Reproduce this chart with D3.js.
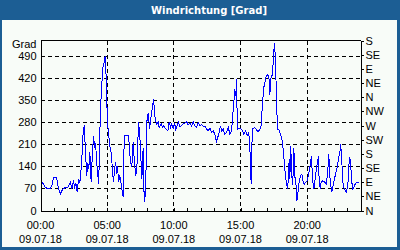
<!DOCTYPE html>
<html>
<head>
<meta charset="utf-8">
<script src="https://cdn.jsdelivr.net/npm/d3@7"></script>
<style>
  body { margin: 0; background: #fff; }
  svg { display: block; }
</style>
</head>
<body>
<svg width="400" height="250"></svg>
<script>
// minutes since 00:00 and wind direction in degrees (values > 360 wrap round the compass)
var minutes = [3, 21, 32, 44, 51, 59, 69, 73, 81, 90, 99, 111, 123, 134, 141, 149, 153, 159, 165, 171, 177,
  183, 186, 192, 197, 201, 208, 213, 217, 222, 228, 234, 239, 243, 248, 252, 257, 262, 267, 271, 276, 279,
  285, 287, 291, 294, 297, 300, 305, 307, 312, 320, 324, 329, 333, 339, 342, 347, 351, 357, 366, 372, 375,
  379, 396, 405, 411, 417, 423, 429, 435, 441, 447, 456, 462, 465, 469, 474, 478, 485, 491, 496, 509, 514,
  522, 530, 534, 543, 549, 554, 564, 573, 579, 585, 591, 597, 603, 609, 615, 621, 627, 635, 642, 649, 657,
  665, 672, 680, 687, 694, 702, 710, 717, 725, 732, 739, 747, 755, 762, 770, 777, 784, 792, 800, 804, 810,
  816, 822, 829, 837, 845, 852, 860, 864, 870, 874, 879, 882, 885, 888, 897, 908, 915, 923, 930, 937, 942,
  945, 948, 951, 955, 963, 971, 978, 986, 993, 999, 1005, 1011, 1016, 1023, 1029, 1032, 1036, 1043, 1047,
  1050, 1052, 1056, 1059, 1062, 1067, 1074, 1080, 1086, 1092, 1097, 1101, 1106, 1112, 1116, 1119, 1122,
  1126, 1131, 1135, 1140, 1144, 1149, 1154, 1164, 1170, 1176, 1182, 1188, 1194, 1200, 1206, 1211, 1215,
  1220, 1223, 1227, 1230, 1236, 1242, 1248, 1251, 1254, 1259, 1263, 1270, 1278, 1286, 1293, 1297, 1302,
  1306, 1311, 1317, 1323, 1329, 1335, 1341, 1347, 1351, 1356, 1362, 1368, 1376, 1383, 1387, 1392, 1396,
  1401, 1405, 1410, 1416, 1422, 1428, 1432];
var values = [95, 74, 69, 70, 79, 105, 105, 102, 69, 53, 67, 73, 73, 90, 70, 95, 70, 88, 60, 100, 88,
  132, 164, 248, 271, 206, 111, 150, 132, 185, 90, 190, 238, 200, 215, 160, 121, 84, 248, 338, 396, 449,
  465, 475, 491, 449, 396, 307, 248, 238, 206, 174, 121, 90, 132, 153, 116, 140, 90, 111, 69, 42, 185,
  238, 238, 153, 140, 216, 150, 111, 153, 280, 238, 100, 200, 69, 26, 90, 280, 311, 259, 290, 354, 301,
  275, 280, 264, 275, 264, 270, 259, 253, 282, 264, 275, 259, 278, 257, 270, 280, 266, 270, 275, 278, 282,
  272, 278, 268, 282, 270, 265, 278, 270, 272, 268, 268, 259, 253, 262, 248, 253, 243, 219, 238, 248, 269,
  253, 259, 243, 248, 264, 243, 253, 296, 343, 385, 364, 417, 300, 259, 262, 255, 243, 253, 238, 248, 206,
  132, 85, 206, 259, 264, 257, 250, 257, 269, 343, 391, 412, 428, 431, 417, 367, 417, 431, 470,
  501, 533, 496, 438, 343, 259, 255, 243, 227, 195, 153, 121, 90, 69, 111, 164, 100,
  204, 110, 80, 200, 110, 90, 30, 90, 111, 116, 90, 84, 90, 95, 111, 132, 153,
  174, 111, 84, 69, 100, 137, 158, 174, 90, 69, 90, 95, 90, 84, 127, 180, 111,
  79, 58, 79, 100, 121, 137, 164, 185, 211, 153, 79, 69, 58, 79, 140, 169, 140,
  90, 69, 74, 84, 90, 90, 88];

var degreeTicks = [0, 70, 140, 210, 280, 350, 420, 490];
var compassTicks = [0, 45, 90, 135, 180, 225, 270, 315, 360, 405, 450, 495, 540];
var compassLabels = ["N", "NE", "E", "SE", "S", "SW", "W", "NW", "N", "NE", "E", "SE", "S"];
var timeTicks = [0, 300, 600, 900, 1200];
var timeLabels = ["00:00", "05:00", "10:00", "15:00", "20:00"];
var dateLabel = "09.07.18";
var title = "Windrichtung [Grad]";
var unitLabel = "Grad";

var svg = d3.select("svg"),
    width = +svg.attr("width"),
    height = +svg.attr("height");

var font = "Liberation Sans";

var x = d3.scaleLinear()
  .domain([0, 1440])
  .range([40.5, 360.5]);

var y = d3.scaleLinear()
  .domain([0, 540])
  .range([210.5, 40.5]);

// window frame + title bar
svg.append("rect")
  .attr("width", width)
  .attr("height", height)
  .attr("fill", "#1c5e94");

svg.append("rect")
  .attr("x", 2)
  .attr("y", 20)
  .attr("width", width - 5)
  .attr("height", height - 23)
  .attr("fill", "#f8fcf8");

svg.append("text")
  .attr("x", 209)
  .attr("y", 14)
  .attr("text-anchor", "middle")
  .attr("fill", "#fff")
  .attr("font-family", "DejaVu Sans")
  .attr("font-weight", "bold")
  .attr("font-size", 10)
  .text(title);

// dashed grid
var grid = svg.append("g")
  .attr("stroke", "#000")
  .attr("stroke-dasharray", "4,3")
  .attr("shape-rendering", "crispEdges");

grid.selectAll(".h")
  .data(degreeTicks.slice(1))
  .enter().append("line")
  .attr("x1", x(0)).attr("x2", x(1440))
  .attr("y1", d => y(d)).attr("y2", d => y(d));

grid.selectAll(".v")
  .data(timeTicks.slice(1))
  .enter().append("line")
  .attr("y1", y(540)).attr("y2", y(0))
  .attr("x1", d => x(d)).attr("x2", d => x(d));

// data line
svg.append("path")
  .datum(d3.zip(minutes, values))
  .attr("fill", "none")
  .attr("stroke", "#0000ff")
  .attr("stroke-width", 1)
  .attr("shape-rendering", "crispEdges")
  .attr("d", d3.line().x(d => x(d[0])).y(d => y(d[1])));

// axes
var left = svg.append("g")
  .attr("transform", "translate(" + x(0) + ",0)")
  .call(d3.axisLeft(y).tickValues(degreeTicks).tickSize(0).tickPadding(4));

var right = svg.append("g")
  .attr("transform", "translate(" + x(1440) + ",0)")
  .call(d3.axisRight(y).tickValues(compassTicks).tickSize(3).tickPadding(2)
    .tickFormat((d, i) => compassLabels[i]));

var bottom = svg.append("g")
  .attr("transform", "translate(0," + y(0) + ")")
  .call(d3.axisBottom(x).tickValues(d3.range(0, 1441, 60)).tickSizeInner(-3).tickSizeOuter(0)
    .tickFormat(""));

svg.append("line")
  .attr("x1", x(0)).attr("x2", x(1440))
  .attr("y1", y(540)).attr("y2", y(540))
  .attr("stroke", "#000")
  .attr("shape-rendering", "crispEdges");

svg.selectAll(".domain, .tick line")
  .attr("stroke", "#000")
  .attr("shape-rendering", "crispEdges");

svg.selectAll(".tick text")
  .attr("fill", "#000")
  .attr("font-family", font)
  .attr("font-size", 11);

svg.append("text")
  .attr("x", 36.5)
  .attr("y", 48)
  .attr("text-anchor", "end")
  .attr("font-family", font)
  .attr("font-size", 11)
  .text(unitLabel);

var tl = svg.append("g")
  .attr("font-family", font)
  .attr("font-size", 11)
  .attr("text-anchor", "middle");

tl.selectAll(".t")
  .data(timeTicks)
  .enter().append("text")
  .attr("x", d => x(d))
  .attr("y", 229)
  .text((d, i) => timeLabels[i]);

tl.selectAll(".d")
  .data(timeTicks)
  .enter().append("text")
  .attr("x", d => x(d))
  .attr("y", 243)
  .text(dateLabel);
</script>
</body>
</html>
